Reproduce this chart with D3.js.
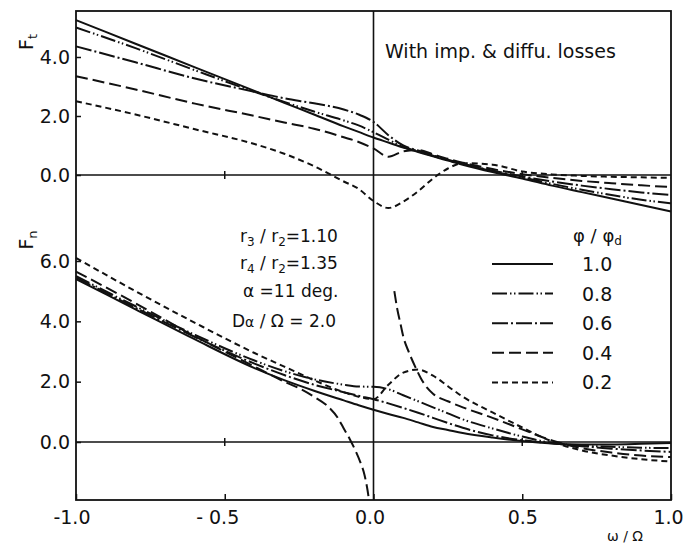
<!DOCTYPE html>
<html>
<head>
<meta charset="utf-8">
<script src="https://cdn.jsdelivr.net/npm/d3@7"></script>
<style>
  body { margin: 0; background: #fff; }
  svg text { font-family: "DejaVu Sans", sans-serif; fill: #111; }
</style>
</head>
<body>
<svg id="chart" width="695" height="544"></svg>
<script>
// x grid shared by most curves (omega / Omega)
const gridX = [-1, -0.8, -0.6, -0.4, -0.3, -0.2, -0.1, -0.05, 0, 0.05, 0.1, 0.15, 0.2, 0.25, 0.3, 0.4, 0.5, 0.6, 0.7, 0.8, 0.9, 1.0];

// upper panel, F_t
const ft10 = [5.25, 4.45, 3.65, 2.85, 2.45, 2.05, 1.65, 1.46, 1.27, 1.1, 0.93, 0.78, 0.63, 0.49, 0.35, 0.1, -0.12, -0.36, -0.58, -0.8, -1.02, -1.24];
const ft08 = [5.0, 4.3, 3.55, 2.82, 2.48, 2.15, 1.85, 1.68, 1.45, 1.2, 0.95, 0.8, 0.65, 0.5, 0.37, 0.13, -0.08, -0.3, -0.5, -0.68, -0.84, -0.96];
const ft06 = [4.36, 3.82, 3.27, 2.82, 2.6, 2.43, 2.22, 2.05, 1.8, 1.35, 1.0, 0.83, 0.67, 0.52, 0.38, 0.15, -0.05, -0.22, -0.36, -0.48, -0.59, -0.68];
const ft04 = [3.35, 2.9, 2.42, 2.0, 1.78, 1.57, 1.28, 1.12, 0.9, 0.62, 0.8, 0.85, 0.7, 0.55, 0.42, 0.2, 0.03, -0.1, -0.2, -0.28, -0.35, -0.41];
const ft02 = [2.5, 2.05, 1.55, 1.05, 0.72, 0.3, -0.22, -0.47, -0.88, -1.12, -0.9, -0.55, -0.12, 0.22, 0.4, 0.35, 0.12, 0.02, -0.03, -0.06, -0.08, -0.1];

// lower panel, F_n
const fn10 = [5.4, 4.4, 3.4, 2.45, 2.05, 1.7, 1.38, 1.22, 1.07, 0.93, 0.8, 0.65, 0.5, 0.4, 0.3, 0.15, 0.03, -0.05, -0.08, -0.08, -0.06, -0.03];
const fn08 = [5.5, 4.5, 3.55, 2.7, 2.35, 2.08, 1.9, 1.84, 1.83, 1.75, 1.55, 1.35, 1.15, 0.95, 0.75, 0.45, 0.18, -0.03, -0.12, -0.16, -0.19, -0.2];
const fn06 = [5.45, 4.45, 3.48, 2.6, 2.22, 1.9, 1.65, 1.53, 1.42, 1.28, 1.13, 0.97, 0.8, 0.63, 0.47, 0.22, 0.06, -0.04, -0.14, -0.22, -0.28, -0.33];
const fn02 = [6.1, 5.0, 3.95, 2.95, 2.5, 2.05, 1.65, 1.5, 1.42, 1.9, 2.3, 2.4, 2.2, 1.85, 1.5, 0.98, 0.48, 0.02, -0.28, -0.45, -0.57, -0.65];
// phi/phi_d = 0.4 has a singularity near omega = 0, two branches
const fn04LeftX = [-1, -0.8, -0.6, -0.4, -0.3, -0.25, -0.2, -0.15, -0.12, -0.1, -0.08, -0.06, -0.045, -0.03, -0.02, -0.015];
const fn04Left = [5.65, 4.6, 3.5, 2.5, 2.0, 1.78, 1.5, 1.15, 0.8, 0.45, 0.1, -0.3, -0.65, -1.1, -1.6, -1.93];
const fn04RightX = [0.07, 0.08, 0.09, 0.1, 0.12, 0.14, 0.16, 0.18, 0.2, 0.25, 0.3, 0.4, 0.5, 0.6, 0.7, 0.8, 0.9, 1.0];
const fn04Right = [5.0, 4.4, 3.95, 3.5, 2.95, 2.5, 2.1, 1.8, 1.6, 1.35, 1.15, 0.8, 0.42, 0.05, -0.2, -0.35, -0.45, -0.5];

// ticks and labels
const xTicks = [-1, -0.5, 0, 0.5, 1];
const xTickLabels = ['-1.0', '- 0.5', '0.0', '0.5', '1.0'];
const ftTicks = [0, 2, 4];
const fnTicks = [0, 2, 4, 6];
const phiLabels = ['1.0', '0.8', '0.6', '0.4', '0.2'];

// line style per phi/phi_d
const dashes = {
  '1.0': null,
  '0.8': '15,3,1.5,2.5,1.5,3',
  '0.6': '16,3,2,3',
  '0.4': '12,5',
  '0.2': '6,4'
};

// layout
const frame = {left: 76, right: 671, top: 11, bottom: 500};
const svg = d3.select('#chart');

const x = d3.scaleLinear().domain([-1, 1]).range([frame.left, frame.right]);
const yTop = d3.scaleLinear().domain([0, 4]).range([175, 57]);
const yBot = d3.scaleLinear().domain([0, 6]).range([442, 261]);

const ink = '#111';

// frame, zero lines, omega = 0 line
svg.append('rect')
    .attr('x', frame.left).attr('y', frame.top)
    .attr('width', frame.right - frame.left).attr('height', frame.bottom - frame.top)
    .attr('fill', 'none').attr('stroke', ink).attr('stroke-width', 1.8);
[yTop(0), yBot(0)].forEach(function(yy) {
  svg.append('line')
      .attr('x1', frame.left).attr('x2', frame.right).attr('y1', yy).attr('y2', yy)
      .attr('stroke', ink).attr('stroke-width', 1.6);
  // small cross ticks on the zero lines
  [-0.5, 0.5].forEach(function(v) {
    svg.append('line')
        .attr('x1', x(v)).attr('x2', x(v)).attr('y1', yy - 4).attr('y2', yy + 4)
        .attr('stroke', ink).attr('stroke-width', 1.5);
  });
});
svg.append('line')
    .attr('x1', x(0)).attr('x2', x(0)).attr('y1', frame.top).attr('y2', frame.bottom)
    .attr('stroke', ink).attr('stroke-width', 1.6);

// x axis
const xAxis = svg.append('g')
    .attr('transform', 'translate(0,' + frame.bottom + ')')
    .call(d3.axisBottom(x).tickValues(xTicks)
        .tickFormat((d, i) => xTickLabels[i])
        .tickSize(-6).tickPadding(11));
xAxis.select('.domain').remove();
xAxis.selectAll('line').attr('stroke', ink).attr('stroke-width', 1.5);
xAxis.selectAll('text')
    .attr('font-size', 19)
    .attr('font-family', '"DejaVu Sans", sans-serif')
    .attr('fill', ink)
    .attr('text-anchor', d => d < 0 ? 'end' : 'middle')
    .attr('dx', d => d < 0 ? 14 : (d === 0 ? -4 : (d === 1 ? -3 : 0)));

// y axes
function yAxis(scale, ticks) {
  const g = svg.append('g')
      .attr('transform', 'translate(' + frame.left + ',0)')
      .call(d3.axisLeft(scale).tickValues(ticks)
          .tickFormat(d3.format('.1f')).tickSize(-5).tickPadding(6));
  g.select('.domain').remove();
  g.selectAll('line').attr('stroke', ink).attr('stroke-width', 1.5);
  g.selectAll('text')
      .attr('font-size', 19)
      .attr('font-family', '"DejaVu Sans", sans-serif')
      .attr('fill', ink);
}
yAxis(yTop, ftTicks);
yAxis(yBot, fnTicks);

// axis titles
function subLabel(tx, ty, main, sub, rot) {
  const t = svg.append('text')
      .attr('transform', 'translate(' + tx + ',' + ty + ')' + (rot ? ' rotate(-90)' : ''))
      .attr('text-anchor', 'middle')
      .attr('font-size', 19);
  t.append('tspan').text(main);
  t.append('tspan').attr('font-size', 13).attr('dy', 4).text(sub);
  return t;
}
subLabel(33, 42, 'F', 't', true);
subLabel(33, 240, 'F', 'n', true);

svg.append('text')
    .attr('x', 607).attr('y', 541)
    .attr('font-size', 14)
    .text('\u03c9 / \u03a9');

// curves
function drawCurve(xs, ys, scale, label) {
  const line = d3.line()
      .x(d => x(d[0]))
      .y(d => scale(d[1]))
      .curve(d3.curveMonotoneX);
  svg.append('path')
      .datum(d3.zip(xs, ys))
      .attr('d', line)
      .attr('fill', 'none')
      .attr('stroke', ink)
      .attr('stroke-width', 2)
      .attr('stroke-dasharray', dashes[label]);
}
drawCurve(gridX, ft10, yTop, '1.0');
drawCurve(gridX, ft08, yTop, '0.8');
drawCurve(gridX, ft06, yTop, '0.6');
drawCurve(gridX, ft04, yTop, '0.4');
drawCurve(gridX, ft02, yTop, '0.2');

drawCurve(gridX, fn10, yBot, '1.0');
drawCurve(gridX, fn08, yBot, '0.8');
drawCurve(gridX, fn06, yBot, '0.6');
drawCurve(fn04LeftX, fn04Left, yBot, '0.4');
drawCurve(fn04RightX, fn04Right, yBot, '0.4');
drawCurve(gridX, fn02, yBot, '0.2');

// annotation, upper panel
svg.append('text')
    .attr('x', 385).attr('y', 58)
    .attr('font-size', 19)
    .text('With imp. & diffu. losses');

// parameter block, lower panel
const params = svg.append('g').attr('font-size', 17);
function paramLine(px, py, parts) {
  const t = params.append('text').attr('x', px).attr('y', py);
  parts.forEach(function(p) {
    const s = t.append('tspan').text(p[0]);
    if (p[1] === 'sub') s.attr('font-size', 12).attr('dy', 4);
    if (p[1] === 'up') s.attr('dy', -4);
    if (p[1] === 'small') s.attr('font-size', 14);
  });
}
paramLine(240, 242, [['r'], ['3', 'sub'], [' / r', 'up'], ['2', 'sub'], ['=1.10', 'up']]);
paramLine(240, 269, [['r'], ['4', 'sub'], [' / r', 'up'], ['2', 'sub'], ['=1.35', 'up']]);
paramLine(243, 297, [['\u03b1  =11 deg.']]);
paramLine(232, 327, [['D'], ['\u03b1', 'small'], [' / \u03a9 = 2.0']]);

// legend
const legend = svg.append('g');
legend.append('text')
    .attr('x', 573).attr('y', 242)
    .attr('font-size', 18)
    .call(function(t) {
      t.append('tspan').text('\u03c6 / \u03c6');
      t.append('tspan').attr('font-size', 12).attr('dy', 3).text('d');
    });
phiLabels.forEach(function(lab, i) {
  const ly = 264 + i * 29.6;
  legend.append('line')
      .attr('x1', 492).attr('x2', 553).attr('y1', ly).attr('y2', ly)
      .attr('stroke', ink).attr('stroke-width', 2)
      .attr('stroke-dasharray', dashes[lab]);
  legend.append('text')
      .attr('x', 582).attr('y', ly + 7)
      .attr('font-size', 19)
      .text(lab);
});
</script>
</body>
</html>
